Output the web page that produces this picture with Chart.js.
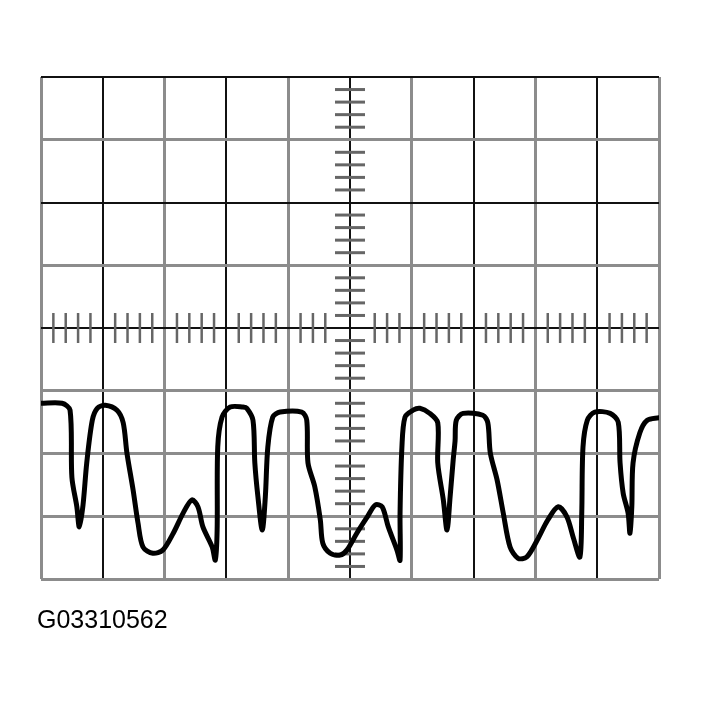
<!DOCTYPE html>
<html>
<head>
<meta charset="utf-8">
<script src="https://cdn.jsdelivr.net/npm/chart.js@4/dist/chart.umd.min.js"></script>
<style>
  body { margin: 0; background: #fff; }
  #wrap { position: relative; width: 701px; height: 705px; }
  #code { position: absolute; left: 37px; top: 605px; font: 25px "Liberation Sans", Arial, sans-serif; color: #000; }
</style>
</head>
<body>
<div id="wrap">
  <canvas id="scope"></canvas>
  <div id="code">G03310562</div>
</div>
<script>
// waveform trace in divisions (x: time div, y: volts div from centre)
const timeDiv = [0, 0.34, 0.47, 0.50, 0.58, 0.62, 0.68, 0.74, 0.83, 0.91, 1.04, 1.23, 1.33, 1.39, 1.49, 1.57, 1.65, 1.81, 1.97, 2.14, 2.30, 2.44, 2.54, 2.62, 2.77, 2.82, 2.85, 2.86, 2.93, 3.06, 3.27, 3.33, 3.43, 3.46, 3.51, 3.58, 3.63, 3.67, 3.75, 3.87, 4.22, 4.30, 4.32, 4.43, 4.52, 4.56, 4.68, 4.84, 4.95, 5.11, 5.28, 5.41, 5.52, 5.62, 5.76, 5.81, 5.81, 5.84, 5.89, 6.02, 6.13, 6.29, 6.42, 6.42, 6.51, 6.57, 6.62, 6.67, 6.70, 6.72, 6.83, 7.15, 7.23, 7.27, 7.38, 7.48, 7.59, 7.72, 7.86, 8.03, 8.20, 8.37, 8.51, 8.61, 8.72, 8.75, 8.77, 8.84, 8.96, 9.21, 9.34, 9.37, 9.42, 9.50, 9.53, 9.56, 9.58, 9.69, 9.81, 10.0];
const voltDiv = [-1.20, -1.20, -1.31, -2.38, -2.85, -3.17, -2.82, -2.15, -1.47, -1.28, -1.23, -1.31, -1.51, -1.99, -2.58, -3.11, -3.49, -3.59, -3.54, -3.27, -2.95, -2.74, -2.85, -3.17, -3.49, -3.70, -3.22, -1.90, -1.42, -1.26, -1.26, -1.28, -1.47, -2.15, -2.69, -3.22, -2.69, -1.90, -1.42, -1.34, -1.34, -1.47, -2.15, -2.53, -3.06, -3.43, -3.59, -3.62, -3.54, -3.27, -3.01, -2.82, -2.85, -3.17, -3.54, -3.70, -2.95, -1.90, -1.42, -1.31, -1.28, -1.36, -1.51, -2.15, -2.74, -3.22, -2.69, -2.10, -1.80, -1.47, -1.36, -1.39, -1.51, -1.99, -2.42, -2.95, -3.49, -3.67, -3.65, -3.38, -3.06, -2.85, -3.01, -3.33, -3.65, -2.95, -1.90, -1.47, -1.34, -1.36, -1.50, -2.15, -2.63, -2.95, -3.27, -2.85, -2.15, -1.67, -1.47, -1.43];

const xDivs = 10;
const yDivs = 4;   // each side of centre
const subTicks = 5; // minor marks per division on the centre lines

// small marks along the centre cross
const graticule = {
  id: 'graticule',
  beforeDatasetsDraw(chart) {
    const ctx = chart.ctx;
    const xs = chart.scales.x, ys = chart.scales.y;
    const mid = xDivs * subTicks / 2;
    const cx = xs.getPixelForValue(xDivs / 2);
    const cy = ys.getPixelForValue(0);
    ctx.save();
    ctx.strokeStyle = '#666';
    ctx.lineWidth = 3;
    for (let i = -yDivs * subTicks; i <= yDivs * subTicks; i++) {
      if (i % subTicks === 0) continue;
      const py = ys.getPixelForValue(i / subTicks);
      ctx.beginPath();
      ctx.moveTo(cx - 15, py);
      ctx.lineTo(cx + 15, py);
      ctx.stroke();
    }
    ctx.lineWidth = 2.5;
    for (let i = 0; i <= xDivs * subTicks; i++) {
      if (i % subTicks === 0 || Math.abs(i - mid) === 1) continue;
      const px = xs.getPixelForValue(i / subTicks);
      ctx.beginPath();
      ctx.moveTo(px, cy - 15);
      ctx.lineTo(px, cy + 15);
      ctx.stroke();
    }
    ctx.restore();
  }
};

const ctx = document.getElementById('scope').getContext('2d');
new Chart(ctx, {
  type: 'scatter',
  data: {
    datasets: [{
      data: timeDiv.map((t, i) => ({ x: t, y: voltDiv[i] })),
      showLine: true,
      borderColor: '#000',
      borderWidth: 5,
      pointRadius: 0,
      tension: 0.3,
      borderJoinStyle: 'round',
      borderCapStyle: 'round'
    }]
  },
  options: {
    responsive: true,
    maintainAspectRatio: false,
    animation: false,
    layout: { padding: { left: 41, right: 42, top: 77, bottom: 126 } },
    plugins: { legend: { display: false }, tooltip: { enabled: false } },
    scales: {
      x: {
        type: 'linear', min: 0, max: xDivs,
        ticks: { display: false, stepSize: 1 },
        border: { display: false },
        grid: {
          drawTicks: false,
          color: c => (c.tick.value % 2 === 1 ? '#111' : '#8c8c8c'),
          lineWidth: c => (c.tick.value % 2 === 1 ? 2 : 3)
        }
      },
      y: {
        min: -yDivs, max: yDivs,
        ticks: { display: false, stepSize: 1 },
        border: { display: false },
        grid: {
          drawTicks: false,
          color: c => ([4, 2, 0].includes(c.tick.value) ? '#111' : '#8c8c8c'),
          lineWidth: c => ([4, 2, 0].includes(c.tick.value) ? 2 : 3)
        }
      }
    }
  },
  plugins: [graticule]
});
</script>
</body>
</html>
